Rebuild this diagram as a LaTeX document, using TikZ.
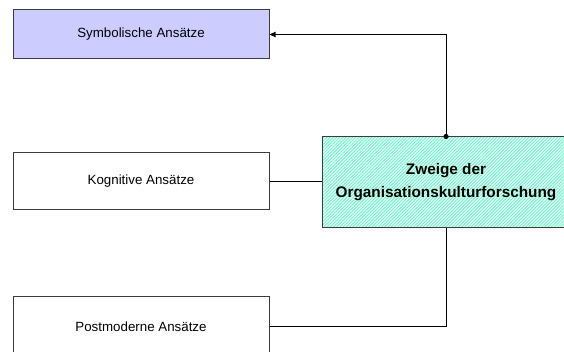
\documentclass[tikz,border=0pt]{standalone}
\usepackage{fontspec}
\setmainfont{Liberation Sans}
\usetikzlibrary{arrows.meta,patterns.meta}

\definecolor{symbfill}{RGB}{204,204,255}
\definecolor{hatchbg}{RGB}{235,255,249}
\definecolor{hatchfg}{RGB}{120,245,205}
\definecolor{boxline}{RGB}{60,60,60}

\tikzset{every picture/.style={line width=0.75pt}}
\tikzset{
  branchbox/.style={draw=boxline, inner sep=0pt, minimum width=192pt, font=\fontsize{10}{12}\selectfont},
  rootbox/.style={draw=boxline, inner sep=0pt, minimum width=186pt, minimum height=68.25pt,
    preaction={fill=hatchbg}, pattern={Lines[angle=45,distance=1.7pt,line width=0.75pt]}, pattern color=hatchfg,
    align=center, font=\fontsize{11.5}{17.25}\selectfont\bfseries},
  link/.style={draw=black}
}

\begin{document}
\begin{tikzpicture}[x=0.75pt,y=0.75pt,yscale=-1,xscale=1]
\clip (0,0) rectangle (564,352);
\useasboundingbox (0,0) rectangle (564,352);

% Text Node
\node [branchbox, fill=symbfill, minimum height=36.75pt] (symb) at (141,34.5) {Symbolische Ansätze};
% Text Node
\node [branchbox, fill=white, minimum height=42.75pt] (kogn) at (141,181.5) {Kognitive Ansätze};
% Text Node
\node [branchbox, fill=white, minimum height=44.25pt] (postm) at (141,326.5) {Postmoderne Ansätze};
% Text Node
\node [rootbox] (zweige) at (446,182.5) {Zweige der\\Organisationskulturforschung};

%Straight Lines
\draw [link, -{Triangle[length=4.5pt,width=4pt]}] (zweige.north) |- (symb.east);
\fill (zweige.north) circle [radius=2.6];
\draw [link] (kogn.east) -- (kogn.east -| zweige.west);
\draw [link] (postm.east) -| (zweige.south);

\end{tikzpicture}
\end{document}
